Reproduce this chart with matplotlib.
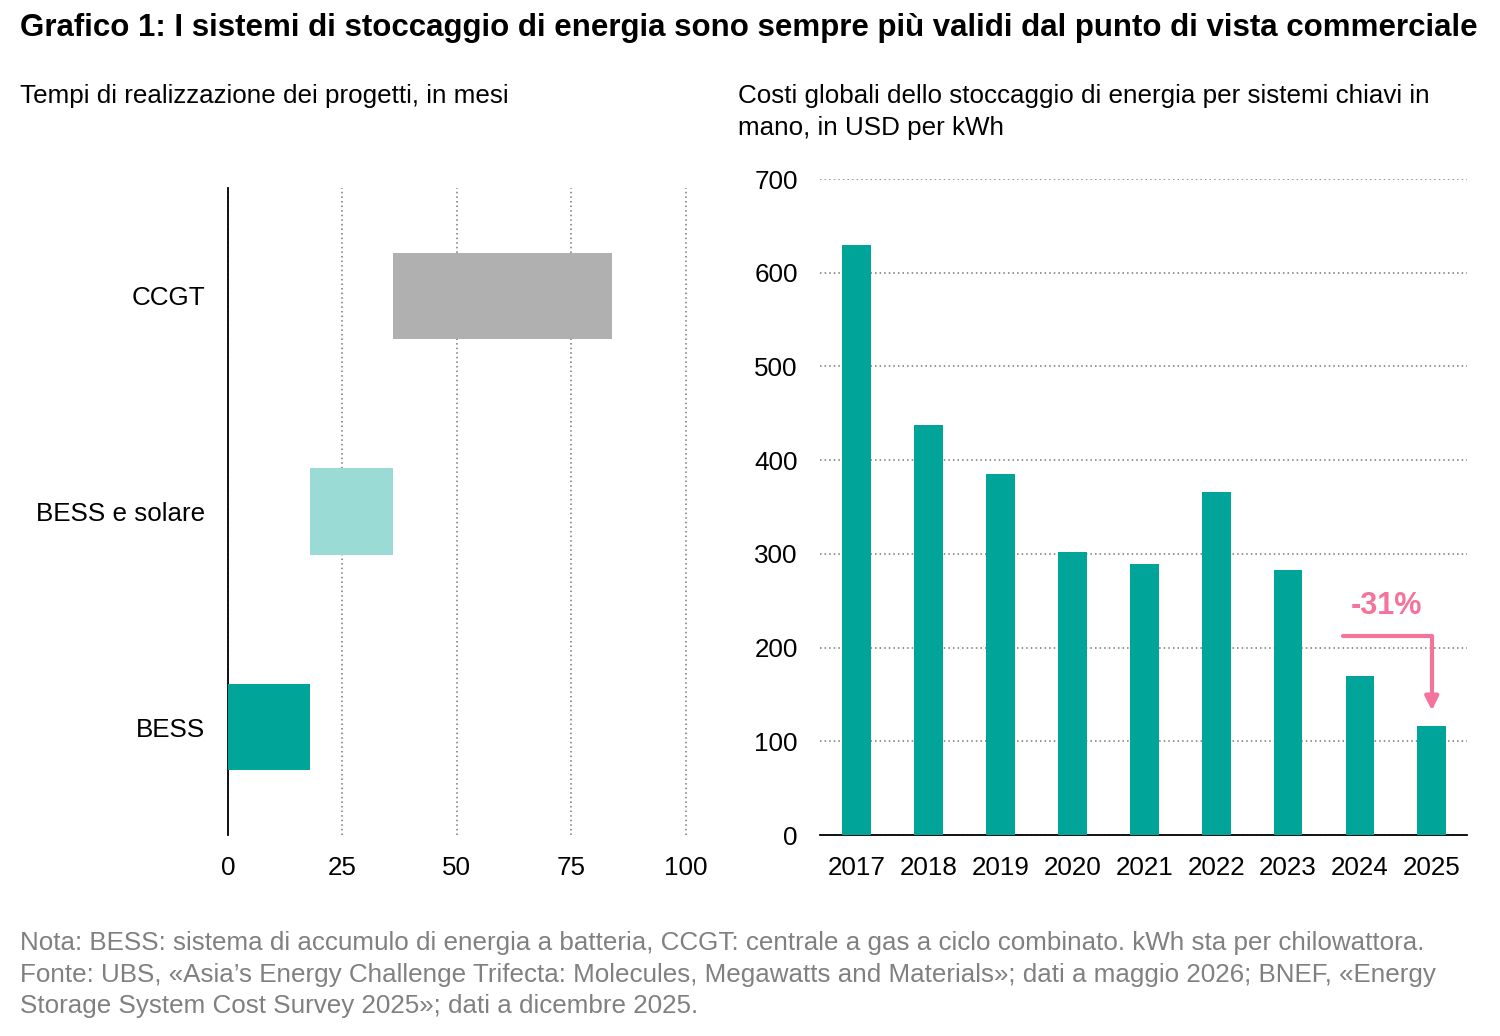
import matplotlib

matplotlib.use("Agg")
import matplotlib.pyplot as plt  # noqa: E402
import numpy as np  # noqa: E402

plt.rcParams["font.family"] = ["Liberation Sans", "DejaVu Sans"]

# left panel: project lead times (months)
projects = ["BESS", "BESS e solare", "CCGT"]
start_months = [0, 18, 36]
end_months = [18, 36, 84]
project_colors = ["#00A499", "#9ADCD5", "#B0B0B0"]
month_ticks = [0, 25, 50, 75, 100]

# right panel: turnkey storage cost (USD/kWh)
years = ["2017", "2018", "2019", "2020", "2021", "2022", "2023", "2024", "2025"]
costs = [630, 437, 385, 302, 289, 366, 283, 170, 116]
cost_ticks = [0, 100, 200, 300, 400, 500, 600, 700]

TEAL = "#00A499"
PINK = "#F4739A"
GREY_TXT = "#808080"
FS = 18.7

W, H = 1500, 1036


def fy(px):
    # pixel row (from top) -> figure fraction
    return 1 - px / H


fig = plt.figure(figsize=(15, 10.36), dpi=100)

fig.text(0.0135, fy(28), "Grafico 1: I sistemi di stoccaggio di energia sono sempre più validi "
         "dal punto di vista commerciale", fontsize=22.5, fontweight="bold", va="center")
fig.text(0.0135, fy(96), "Tempi di realizzazione dei progetti, in mesi", fontsize=FS, va="center")
fig.text(738 / W, fy(96), "Costi globali dello stoccaggio di energia per sistemi chiavi in",
         fontsize=FS, va="center")
fig.text(738 / W, fy(128), "mano, in USD per kWh", fontsize=FS, va="center")

# ---- left panel
ax1 = fig.add_axes([0.152, 0.194, 0.306, 0.6245])
y = np.arange(len(projects))
widths = [e - s for s, e in zip(start_months, end_months)]
ax1.barh(y, widths, left=start_months, height=0.4, color=project_colors, zorder=3)
ax1.set_xlim(0, 100.3)
ax1.set_ylim(-0.5, 2.5)
ax1.set_xticks(month_ticks)
ax1.set_yticks(y, projects)
ax1.grid(axis="x", linestyle=(0, (1, 2)), color="#777777", linewidth=1.1)
for side in ["top", "right", "bottom"]:
    ax1.spines[side].set_visible(False)
ax1.spines["left"].set_linewidth(1.3)
ax1.tick_params(length=0, labelsize=FS)
ax1.tick_params(axis="x", pad=15)
ax1.tick_params(axis="y", pad=16.5)

# ---- right panel
ax2 = fig.add_axes([0.5467, 0.194, 0.4313, 0.6332])
x = np.arange(len(years))
ax2.bar(x, costs, width=0.4, color=TEAL, zorder=3)
ax2.set_xlim(-0.51, 8.49)
ax2.set_ylim(0, 700)
ax2.set_xticks(x, years)
ax2.set_yticks(cost_ticks)
ax2.grid(axis="y", linestyle=(0, (1, 2)), color="#777777", linewidth=1.1)
for side in ["top", "right", "left"]:
    ax2.spines[side].set_visible(False)
ax2.spines["bottom"].set_linewidth(1.3)
ax2.tick_params(length=0, labelsize=FS)
ax2.tick_params(axis="x", pad=15)
ax2.tick_params(axis="y", pad=16)

ax2.annotate("", xy=(8, 133), xytext=(6.76, 212),
             arrowprops=dict(arrowstyle="-|>,head_length=0.8,head_width=0.4",
                             connectionstyle="angle,angleA=0,angleB=90,rad=0",
                             color=PINK, lw=3, shrinkA=0, shrinkB=0), zorder=5)
ax2.text(7.37, 244, "-31%", color=PINK, fontsize=22, fontweight="bold",
         ha="center", va="center")

notes = [
    "Nota: BESS: sistema di accumulo di energia a batteria, CCGT: centrale a gas "
    "a ciclo combinato. kWh sta per chilowattora.",
    "Fonte: UBS, «Asia’s Energy Challenge Trifecta: Molecules, Megawatts and Materials»; "
    "dati a maggio 2026; BNEF, «Energy",
    "Storage System Cost Survey 2025»; dati a dicembre 2025.",
]
for row, line in zip([943, 975, 1006], notes):
    fig.text(0.0135, fy(row), line, fontsize=FS, color=GREY_TXT, va="center")

fig.savefig("out.png", dpi=100, facecolor="white")
plt.close(fig)
